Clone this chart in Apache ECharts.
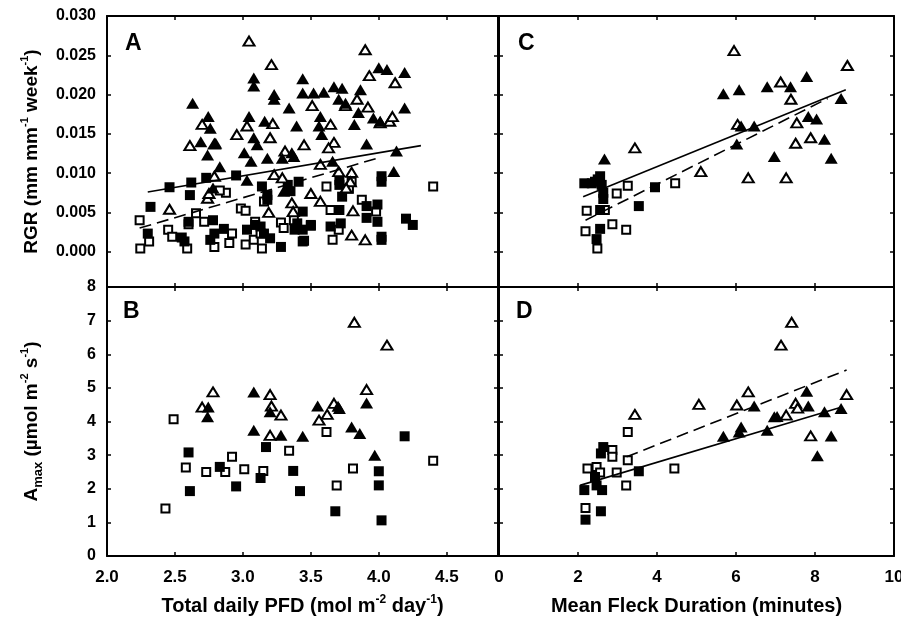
<!DOCTYPE html>
<html><head><meta charset="utf-8">
<script src="https://cdn.jsdelivr.net/npm/echarts@6/dist/echarts.min.js"></script>
<style>html,body{margin:0;padding:0;background:#fff}#c{width:901px;height:619px}</style>
</head><body><div id="c"></div><script>
// ---------- Panel A: RGR vs Total daily PFD ----------
const A_fillTri = [[2.63,0.0189],[2.745,0.0172],[2.76,0.0157],[2.69,0.0140],[2.74,0.0123],[2.80,0.0138],[2.83,0.0108],[2.78,0.0081],
 [3.08,0.0221],[3.08,0.0211],[3.045,0.0172],[3.23,0.0200],[3.23,0.0194],[3.34,0.0183],[3.16,0.0166],[3.08,0.0145],[3.105,0.0136],[3.01,0.0126],[3.06,0.0115],[3.18,0.0119],[3.29,0.0119],[3.36,0.0126],[3.375,0.0121],[3.395,0.0160],[3.03,0.0091],[3.30,0.0077],
 [3.44,0.0220],[3.44,0.0202],[3.52,0.0202],[3.595,0.0203],[3.67,0.0210],[3.73,0.0208],[3.705,0.0194],[3.755,0.0189],[3.865,0.0206],[3.57,0.0172],[3.56,0.0160],[3.58,0.0149],[3.82,0.0162],[3.85,0.0177],[3.96,0.0170],[4.01,0.0166],[4.00,0.0234],[4.06,0.0232],[4.19,0.0228],[4.19,0.0183],[3.91,0.0137],[3.66,0.0115],[4.13,0.0128],[4.11,0.0102]];
const A_openTri = [[3.045,0.0268],[3.21,0.0238],[3.90,0.0257],[3.93,0.0224],[4.12,0.0215],[3.51,0.0186],[3.755,0.0186],[3.84,0.0194],[3.92,0.0184],[4.01,0.0164],[4.08,0.0166],[4.10,0.0172],[3.645,0.0162],[2.70,0.0162],[3.03,0.0160],[3.22,0.0163],[2.955,0.0149],[3.20,0.0145],[2.61,0.0135],[2.79,0.0137],[3.45,0.0136],[3.67,0.0139],[3.63,0.0132],[3.31,0.0128],[3.57,0.0111],[3.705,0.0102],[3.80,0.0101],[3.23,0.0098],[3.29,0.0094],[2.79,0.0096],[2.74,0.0068],[2.75,0.0074],[2.46,0.0054],[3.19,0.0050],[3.36,0.0062],[3.37,0.0051],[3.50,0.0074],[3.57,0.0064],[3.81,0.0052],[3.79,0.0089],[3.80,0.0021],[3.90,0.0015],[3.76,0.0081]];
const A_fillSq = [[2.46,0.0082],[2.62,0.0088],[2.61,0.0072],[2.32,0.0057],[2.73,0.0094],[2.95,0.0097],[3.14,0.0083],[3.18,0.0072],[3.18,0.0066],[3.33,0.0085],[3.35,0.0077],[3.41,0.0089],[3.71,0.0091],[3.71,0.0085],[3.73,0.0070],[4.02,0.0096],[4.02,0.0089],[3.91,0.0058],[3.99,0.0060],[3.71,0.0053],[3.91,0.0043],[3.99,0.0038],[4.20,0.0042],[4.25,0.0034],[4.02,0.0019],[4.02,0.0015],[3.44,0.0051],[3.44,0.0028],[3.38,0.0028],[3.44,0.0013],[3.28,0.0006],[3.645,0.0032],[3.72,0.0036],[3.13,0.0032],[3.155,0.0023],[3.03,0.0028],[3.09,0.0034],[2.86,0.0029],[2.79,0.0023],[2.76,0.0015],[3.20,0.0017],[2.60,0.0038],[2.78,0.0040],[2.30,0.0023],[2.57,0.0013],[3.50,0.0034],[3.40,0.0036],[2.55,0.0018]];
const A_openSq = [[2.24,0.0040],[2.245,0.0004],[2.31,0.0013],[2.45,0.0028],[2.48,0.0019],[2.59,0.0004],[2.655,0.0049],[2.715,0.0038],[2.875,0.0075],[2.985,0.0055],[3.02,0.0052],[3.09,0.0038],[2.92,0.0023],[2.90,0.0011],[2.79,0.0006],[3.02,0.0009],[3.08,0.0015],[3.14,0.0004],[3.13,0.0023],[3.155,0.0064],[3.28,0.0037],[3.375,0.0040],[3.50,0.0033],[3.615,0.0083],[3.78,0.0080],[3.80,0.0089],[3.875,0.0066],[3.645,0.0053],[3.705,0.0028],[3.66,0.0015],[3.98,0.0051],[4.40,0.0083],[2.83,0.0078],[3.45,0.0014],[2.60,0.0035],[3.30,0.0030]];
const A_solid = [[2.30,0.0076],[4.31,0.0135]];
const A_dashed = [[2.24,0.0030],[4.01,0.0120]];

// ---------- Panel B: Amax vs Total daily PFD ----------
const B_openTri = [[3.82,6.95],[4.06,6.27],[2.78,4.88],[3.91,4.95],[2.70,4.43],[3.20,4.80],[3.21,4.46],[3.28,4.19],[3.67,4.54],[3.62,4.21],[3.56,4.04],[3.20,3.59]];
const B_fillTri = [[2.745,4.43],[2.74,4.14],[3.08,4.88],[3.20,4.29],[3.08,3.74],[3.28,3.59],[3.44,3.56],[3.55,4.46],[3.71,4.39],[3.91,4.55],[3.80,3.84],[3.86,3.64],[3.97,3.00],[3.70,4.45]];
const B_openSq = [[2.49,4.07],[2.58,2.63],[2.43,1.41],[2.73,2.50],[2.87,2.50],[2.92,2.95],[3.01,2.58],[3.15,2.53],[3.34,3.13],[3.615,3.69],[3.81,2.60],[3.69,2.10],[4.40,2.83]];
const B_fillSq = [[2.60,3.08],[2.61,1.93],[2.83,2.65],[2.95,2.07],[3.13,2.32],[3.17,3.24],[3.37,2.53],[3.42,1.93],[3.68,1.33],[4.00,2.52],[4.00,2.10],[4.02,1.06],[4.19,3.56]];

// ---------- Panel C: RGR vs Mean Fleck Duration ----------
const C_openTri = [[5.95,0.0256],[8.82,0.0237],[7.13,0.0216],[7.39,0.0194],[7.54,0.0164],[6.04,0.0162],[7.51,0.0138],[7.89,0.0145],[3.44,0.0132],[5.11,0.0102],[6.31,0.0094],[7.27,0.0094]];
const C_fillTri = [[5.68,0.0201],[6.08,0.0206],[6.79,0.0210],[7.38,0.0210],[7.79,0.0223],[8.66,0.0195],[7.83,0.0172],[8.04,0.0169],[6.13,0.0160],[6.46,0.0160],[6.02,0.0137],[8.24,0.0143],[6.97,0.0121],[8.41,0.0119],[2.67,0.0118]];
const C_fillSq = [[2.16,0.0087],[2.43,0.0089],[2.56,0.0096],[2.60,0.0085],[2.64,0.0075],[2.64,0.0067],[3.95,0.0082],[3.54,0.0058],[2.56,0.0053],[2.56,0.0029],[2.47,0.0016],[2.50,0.0092],[2.35,0.0087]];
const C_openSq = [[3.26,0.0084],[2.98,0.0074],[4.46,0.0087],[2.22,0.0052],[2.68,0.0053],[2.19,0.0026],[2.87,0.0035],[3.22,0.0028],[2.49,0.0004]];
const C_solid = [[2.13,0.0070],[8.78,0.0206]];
const C_dashed = [[2.19,0.0040],[8.32,0.0195]];

// ---------- Panel D: Amax vs Mean Fleck Duration ----------
const D_openTri = [[7.41,6.95],[7.14,6.27],[6.31,4.88],[8.80,4.80],[5.06,4.51],[6.02,4.49],[7.51,4.54],[3.44,4.21],[7.27,4.19],[7.89,3.57],[7.56,4.40]];
const D_fillTri = [[7.79,4.90],[6.46,4.46],[7.83,4.46],[8.66,4.39],[8.24,4.29],[6.97,4.14],[6.13,3.84],[6.08,3.69],[5.68,3.56],[6.79,3.74],[8.41,3.57],[8.06,2.98],[7.04,4.15]];
const D_openSq = [[3.26,3.69],[2.87,3.15],[2.87,2.95],[3.26,2.85],[2.24,2.60],[2.47,2.65],[2.56,2.48],[2.98,2.48],[4.44,2.60],[3.22,2.10],[2.19,1.43]];
const D_fillSq = [[2.64,3.24],[2.58,3.05],[3.54,2.52],[2.43,2.35],[2.47,2.10],[2.61,1.96],[2.16,1.96],[2.58,1.33],[2.19,1.08]];
const D_dashed = [[3.23,2.95],[8.80,5.53]];
const D_solid = [[2.05,2.10],[8.68,4.43]];

// ---------- Axis ticks / labels ----------
const rgrTicks = [0, 0.005, 0.010, 0.015, 0.020, 0.025, 0.030];
const panelLetters = ['A','B','C','D'];

const chart = echarts.init(document.getElementById('c'));
const BOLD = 'bold';
const narrow = "'Liberation Sans Narrow', 'Liberation Sans', Arial, sans-serif";
const sans = "'Liberation Sans', Arial, sans-serif";

const grids = [
  {left:107, top:16, width:391, height:271, outerBoundsMode:'none', containLabel:false},  // A
  {left:107, top:287, width:391, height:269, outerBoundsMode:'none', containLabel:false}, // B
  {left:499, top:16, width:395, height:271, outerBoundsMode:'none', containLabel:false},  // C
  {left:499, top:287, width:395, height:269, outerBoundsMode:'none', containLabel:false}  // D
];

const lineStyle = {color:'#000', width:2};
const tickStyle = {show:true, inside:true, length:4, lineStyle:{color:'#000', width:1.5}};

function xAxisFor(gi, position, showLabel) {
  const pfd = gi < 2;
  const ax = {
    type:'value', gridIndex:gi, position:position,
    min: pfd ? 2 : 0, max: pfd ? 4.877 : 10, interval: pfd ? 0.5 : 2,
    axisLine:{show:true, onZero:false, lineStyle:lineStyle},
    axisTick:tickStyle, splitLine:{show:false},
    axisLabel:{show:showLabel, color:'#000', fontFamily:narrow, fontWeight:BOLD, fontSize:17, margin:13,
      formatter: v => {
        if (pfd) { return Math.abs(v*2 - Math.round(v*2)) < 1e-6 ? v.toFixed(1) : ''; }
        return String(v);
      }}
  };
  return ax;
}
function yAxisFor(gi, position, showLabel) {
  const rgr = (gi === 0 || gi === 2);
  const ax = {
    type:'value', gridIndex:gi, position:position,
    axisLine:{show:true, onZero:false, lineStyle:lineStyle},
    splitLine:{show:false},
    axisLabel:{show:showLabel, color:'#000', fontFamily:sans, fontWeight:BOLD, fontSize:16, margin:11}
  };
  if (rgr) {
    ax.min = -0.0045; ax.max = 0.030;
    ax.axisTick = Object.assign({}, tickStyle, {customValues: rgrTicks});
    ax.axisLabel.customValues = rgrTicks;
    ax.axisLabel.formatter = v => v.toFixed(3);
  } else {
    ax.min = 0; ax.max = 8; ax.interval = 1;
    ax.axisTick = tickStyle;
  }
  return ax;
}

const xAxes = [], yAxes = [];
for (let g = 0; g < 4; g++) xAxes.push(xAxisFor(g, 'bottom', g === 1 || g === 3));
for (let g = 0; g < 4; g++) xAxes.push(xAxisFor(g, 'top', false));
for (let g = 0; g < 4; g++) yAxes.push(yAxisFor(g, 'left', g === 0 || g === 1));
for (let g = 0; g < 4; g++) yAxes.push(yAxisFor(g, 'right', false));

const nameStyleBase = {color:'#000', fontWeight:BOLD};
xAxes[1].name = 'Total daily PFD (mol m{s|-2} day{s|-1})';
xAxes[3].name = 'Mean Fleck Duration (minutes)';
[1,3].forEach(i => {
  xAxes[i].nameLocation = 'middle';
  xAxes[i].nameGap = 38;
  xAxes[i].nameTextStyle = Object.assign({}, nameStyleBase, {fontFamily:narrow, fontSize:20, lineHeight:24,
    rich:{s:{fontFamily:narrow, fontWeight:BOLD, fontSize:12, verticalAlign:'top', lineHeight:12, color:'#000'}}});
});
yAxes[0].name = 'RGR (mm mm{s|-1} week{s|-1})';
yAxes[1].name = 'A{b|max} (\u00b5mol m{s|-2} s{s|-1})';
[0,1].forEach(i => {
  yAxes[i].nameLocation = 'middle';
  yAxes[i].nameGap = 62;
  yAxes[i].nameRotate = 90;
  yAxes[i].nameTextStyle = Object.assign({}, nameStyleBase, {fontFamily:sans, fontSize:19, lineHeight:26,
    rich:{
      s:{fontFamily:sans, fontWeight:BOLD, fontSize:11, verticalAlign:'top', lineHeight:11, color:'#000'},
      b:{fontFamily:sans, fontWeight:BOLD, fontSize:13, verticalAlign:'bottom', lineHeight:13, color:'#000'}
    }});
});

function scatter(gi, data, kind) {
  const tri = kind.indexOf('Tri') >= 0;
  const filled = kind.indexOf('fill') === 0;
  return {
    type:'scatter', xAxisIndex:gi, yAxisIndex:gi, data:data, animation:false,
    symbol: tri ? 'triangle' : 'rect',
    symbolSize: tri ? (filled ? [13,11] : [11,9]) : (filled ? [10,10] : [8,8]),
    itemStyle: filled ? {color:'#000', borderColor:'#000', borderWidth:0, opacity:1}
                      : {color:'#fff', borderColor:'#000', borderWidth:2, opacity:1},
    emphasis:{disabled:true}, z:3
  };
}
function regLine(gi, data, dashed) {
  return {
    type:'line', xAxisIndex:gi, yAxisIndex:gi, data:data, symbol:'none', animation:false,
    lineStyle:{color:'#000', width:1.6, type: dashed ? [12,6] : 'solid'}, z:4
  };
}

const series = [
  scatter(0, A_openSq, 'openSq'), scatter(0, A_fillSq, 'fillSq'), scatter(0, A_openTri, 'openTri'), scatter(0, A_fillTri, 'fillTri'),
  regLine(0, A_solid, false), regLine(0, A_dashed, true),
  scatter(1, B_openSq, 'openSq'), scatter(1, B_fillSq, 'fillSq'), scatter(1, B_openTri, 'openTri'), scatter(1, B_fillTri, 'fillTri'),
  scatter(2, C_openSq, 'openSq'), scatter(2, C_fillSq, 'fillSq'), scatter(2, C_openTri, 'openTri'), scatter(2, C_fillTri, 'fillTri'),
  regLine(2, C_solid, false), regLine(2, C_dashed, true),
  scatter(3, D_openSq, 'openSq'), scatter(3, D_fillSq, 'fillSq'), scatter(3, D_openTri, 'openTri'), scatter(3, D_fillTri, 'fillTri'),
  regLine(3, D_solid, false), regLine(3, D_dashed, true)
];

const letterPos = [[125,45],[123,313],[518,45],[516,313]];
const graphic = panelLetters.map((t, i) => ({
  type:'text', left:letterPos[i][0], top:letterPos[i][1] - 13, z:10,
  style:{text:t, fill:'#000', font:'bold 23px ' + sans}
}));

chart.setOption({
  backgroundColor:'#fff',
  animation:false,
  grid:grids,
  xAxis:xAxes,
  yAxis:yAxes,
  series:series,
  graphic:graphic
});
</script></body></html>
